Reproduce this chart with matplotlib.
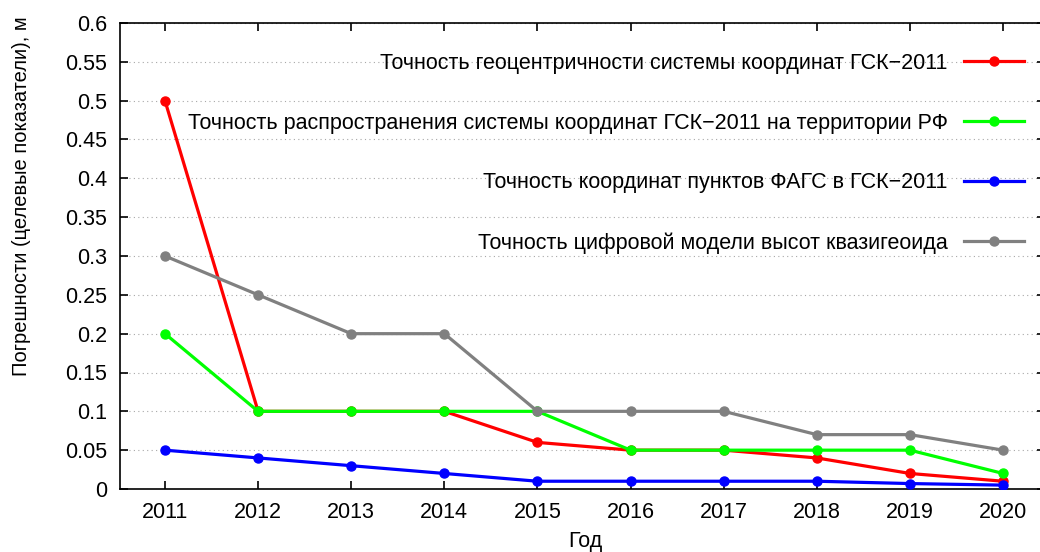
import matplotlib
matplotlib.use("Agg")
import matplotlib.pyplot as plt

years = [2011, 2012, 2013, 2014, 2015, 2016, 2017, 2018, 2019, 2020]

geocentric = [0.5, 0.1, 0.1, 0.1, 0.06, 0.05, 0.05, 0.04, 0.02, 0.01]
spread = [0.2, 0.1, 0.1, 0.1, 0.1, 0.05, 0.05, 0.05, 0.05, 0.02]
fags = [0.05, 0.04, 0.03, 0.02, 0.01, 0.01, 0.01, 0.01, 0.007, 0.005]
quasigeoid = [0.3, 0.25, 0.2, 0.2, 0.1, 0.1, 0.1, 0.07, 0.07, 0.05]

labels = [
    "Точность геоцентричности системы координат ГСК\u22122011",
    "Точность распространения системы координат ГСК\u22122011 на территории РФ",
    "Точность координат пунктов ФАГС в ГСК\u22122011",
    "Точность цифровой модели высот квазигеоида",
]
colors = ["#ff0000", "#00ff00", "#0000ff", "#808080"]

yticks = [0, 0.05, 0.1, 0.15, 0.2, 0.25, 0.3, 0.35, 0.4, 0.45, 0.5, 0.55, 0.6]
ytick_labels = ["0", "0.05", "0.1", "0.15", "0.2", "0.25", "0.3", "0.35",
                "0.4", "0.45", "0.5", "0.55", "0.6"]

plt.rcParams["font.family"] = ["Liberation Sans", "DejaVu Sans"]
fs = 15.5

fig = plt.figure(figsize=(10.4, 5.52), dpi=100)
# plot box runs past the right edge of the picture, as in the reference
ax = fig.add_axes([120 / 1040, 63 / 552, 925 / 1040, 466 / 552])

for series, label, color in zip([geocentric, spread, fags, quasigeoid], labels, colors):
    ax.plot(years, series, color=color, linewidth=2.3, marker="o",
            markersize=6.5, label=label, zorder=3)

ax.set_xlim(2010.517, 2020.45)
ax.set_ylim(0, 0.6)
ax.set_xticks(years)
ax.set_xticklabels([str(y) for y in years])
ax.set_yticks(yticks)
ax.set_yticklabels(ytick_labels)

ax.yaxis.grid(True, linestyle=(0, (1, 3)), color="#a8a8a8", linewidth=0.8)
ax.set_axisbelow(True)

ax.tick_params(axis="both", direction="in", length=6, width=1.2,
               top=True, right=True, labelsize=fs)
ax.tick_params(axis="x", pad=9.5)
ax.tick_params(axis="y", pad=9)
for s in ax.spines.values():
    s.set_linewidth(1.2)

# axis titles placed in figure pixels, matching the reference
fig.text(585 / 1040, 1 - 542 / 552, "Год", fontsize=fs, ha="center", va="center")
fig.text(22 / 1040, 1 - 196 / 552, "Погрешности (целевые показатели), м",
         fontsize=14.5, rotation=90, ha="center", va="center")

leg = fig.legend(loc="upper right", bbox_to_anchor=(1035 / 1040, 1 - 42 / 552),
                 frameon=False, markerfirst=False, handlelength=2.8,
                 labelspacing=1.8, handletextpad=0.75, borderpad=0,
                 fontsize=fs)

fig.savefig("out.png", dpi=100)
